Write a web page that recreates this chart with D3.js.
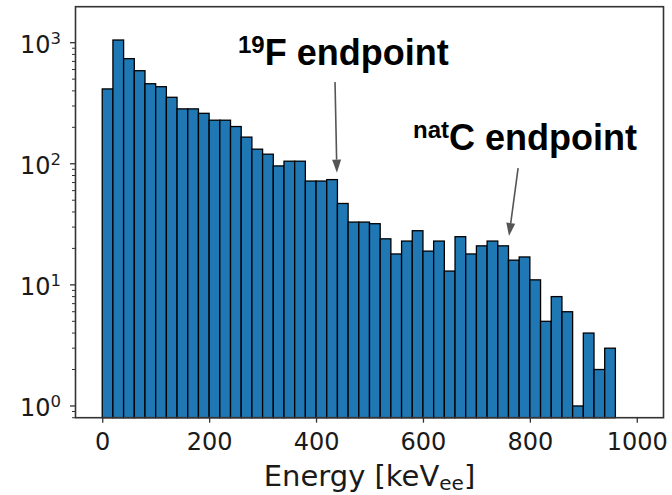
<!DOCTYPE html>
<html>
<head>
<meta charset="utf-8">
<script src="https://cdn.jsdelivr.net/npm/d3@7/dist/d3.min.js"></script>
<style>
  html, body { margin: 0; padding: 0; background: #fff; }
  svg { display: block; }
</style>
</head>
<body>
<svg id="chart" width="672" height="495"></svg>
<script>
// ---- data ----
const binWidth = 20;
const binStarts = [0, 20, 40, 60, 80, 100, 120, 140, 160, 180, 200, 220, 240, 260, 280, 300,
  320, 340, 360, 380, 400, 420, 440, 460, 480, 500, 520, 540, 560, 580, 600, 620,
  640, 660, 680, 700, 720, 740, 760, 780, 800, 820, 840, 860, 880, 900, 920, 940];
const counts = [415, 1052, 738, 587, 458, 433, 354, 284, 284, 261, 229, 229, 203, 166, 132, 120,
  96, 105, 105, 72, 72, 74, 47, 33, 33, 32, 24, 18, 23, 28, 19, 23,
  13, 25, 18, 21, 23, 21, 16, 17, 11, 5, 8, 6, 1, 4, 2, 3];
const xTicks = [0, 200, 400, 600, 800, 1000];
const yMajorExp = [0, 1, 2, 3];
const annotations = [
  { sup: "19", main: "F endpoint", tail: [435.5, 473], tip: [439, 84.5] },
  { sup: "nat", main: "C endpoint", tail: [778, 92], tip: [761, 25.3] }
];
const xLabel = { main: "Energy [keV", sub: "ee", end: "]" };

// ---- layout ----
const svg = d3.select("#chart");
const L = 75.5, R = 663.5, T = 6.7, B = 417.7;
const x = d3.scaleLinear().domain([-50, 1050]).range([L, R]);
const y = d3.scaleLog().domain([0.8, 1982]).range([B, T]);

// bars
svg.append("g").selectAll("rect").data(binStarts).join("rect")
  .attr("x", (d) => x(d))
  .attr("width", (d) => x(d + binWidth) - x(d))
  .attr("y", (d, i) => y(counts[i]))
  .attr("height", (d, i) => B - y(counts[i]))
  .attr("fill", "#1f77b4")
  .attr("stroke", "#000")
  .attr("stroke-width", 1.3);

// spines
svg.append("rect").attr("x", L).attr("y", T).attr("width", R - L).attr("height", B - T)
  .attr("fill", "none").attr("stroke", "#333").attr("stroke-width", 1.6);

// x axis
const xAxis = d3.axisBottom(x).tickValues(xTicks).tickSize(5).tickPadding(6).tickFormat(d3.format("d"));
const gx = svg.append("g").attr("transform", `translate(0,${B})`).call(xAxis);
gx.select(".domain").remove();
gx.selectAll(".tick line").attr("stroke", "#333").attr("stroke-width", 1.3);
gx.selectAll(".tick text").attr("font-family", "DejaVu Sans").attr("font-size", 24)
  .attr("fill", "#1a1a1a").attr("dy", null).attr("y", 32);

// y axis minor ticks
const minor = [];
for (let e = -1; e <= 3; e++) {
  for (let m = 2; m <= 9; m++) {
    const v = m * Math.pow(10, e);
    if (v >= 0.8 && v <= 1982) minor.push(v);
  }
}
svg.append("g").selectAll("line").data(minor).join("line")
  .attr("x1", L - 3.5).attr("x2", L).attr("y1", (d) => y(d)).attr("y2", (d) => y(d))
  .attr("stroke", "#333").attr("stroke-width", 1);
svg.append("g").selectAll("line").data(yMajorExp).join("line")
  .attr("x1", L - 5.5).attr("x2", L).attr("y1", (d) => y(Math.pow(10, d))).attr("y2", (d) => y(Math.pow(10, d)))
  .attr("stroke", "#333").attr("stroke-width", 1.3);
const yl = svg.append("g").selectAll("text").data(yMajorExp).join("text")
  .attr("x", 61).attr("y", (d) => y(Math.pow(10, d)) + 10.5)
  .attr("text-anchor", "end")
  .attr("font-family", "DejaVu Sans").attr("font-size", 24).attr("fill", "#1a1a1a");
yl.append("tspan").text("10");
yl.append("tspan").attr("dy", -9).attr("font-size", 16.5).text((d) => d);

// x label
const xl = svg.append("text").attr("x", (L + R) / 2).attr("y", 486).attr("text-anchor", "middle")
  .attr("font-family", "DejaVu Sans").attr("font-size", 29).attr("fill", "#1a1a1a");
xl.append("tspan").text(xLabel.main);
xl.append("tspan").attr("dy", 4).attr("font-size", 20).text(xLabel.sub);
xl.append("tspan").attr("dy", -4).text(xLabel.end);

// annotations
const textPos = [[238, 65], [413, 150]];
annotations.forEach((a, i) => {
  const t = svg.append("text").attr("x", textPos[i][0]).attr("y", textPos[i][1])
    .attr("font-family", "Liberation Sans, Arial, sans-serif").attr("font-weight", "bold")
    .attr("font-size", 36).attr("fill", "#000");
  t.append("tspan").attr("dy", -12).attr("font-size", 24).text(a.sup);
  t.append("tspan").attr("dy", 12).text(a.main);

  const x0 = x(a.tail[0]), y0 = y(a.tail[1]);
  const x1 = x(a.tip[0]), y1 = y(a.tip[1]);
  const dx = x1 - x0, dy = y1 - y0, len = Math.hypot(dx, dy);
  const ux = dx / len, uy = dy / len;
  const hl = 13, hw = 4.5;
  const bx = x1 - ux * hl, by = y1 - uy * hl;
  svg.append("line").attr("x1", x0).attr("y1", y0).attr("x2", bx).attr("y2", by)
    .attr("stroke", "#555").attr("stroke-width", 1.6);
  svg.append("path")
    .attr("d", `M${x1},${y1} L${bx - uy * hw},${by + ux * hw} L${bx + uy * hw},${by - ux * hw} Z`)
    .attr("fill", "#555");
});
</script>
</body>
</html>
